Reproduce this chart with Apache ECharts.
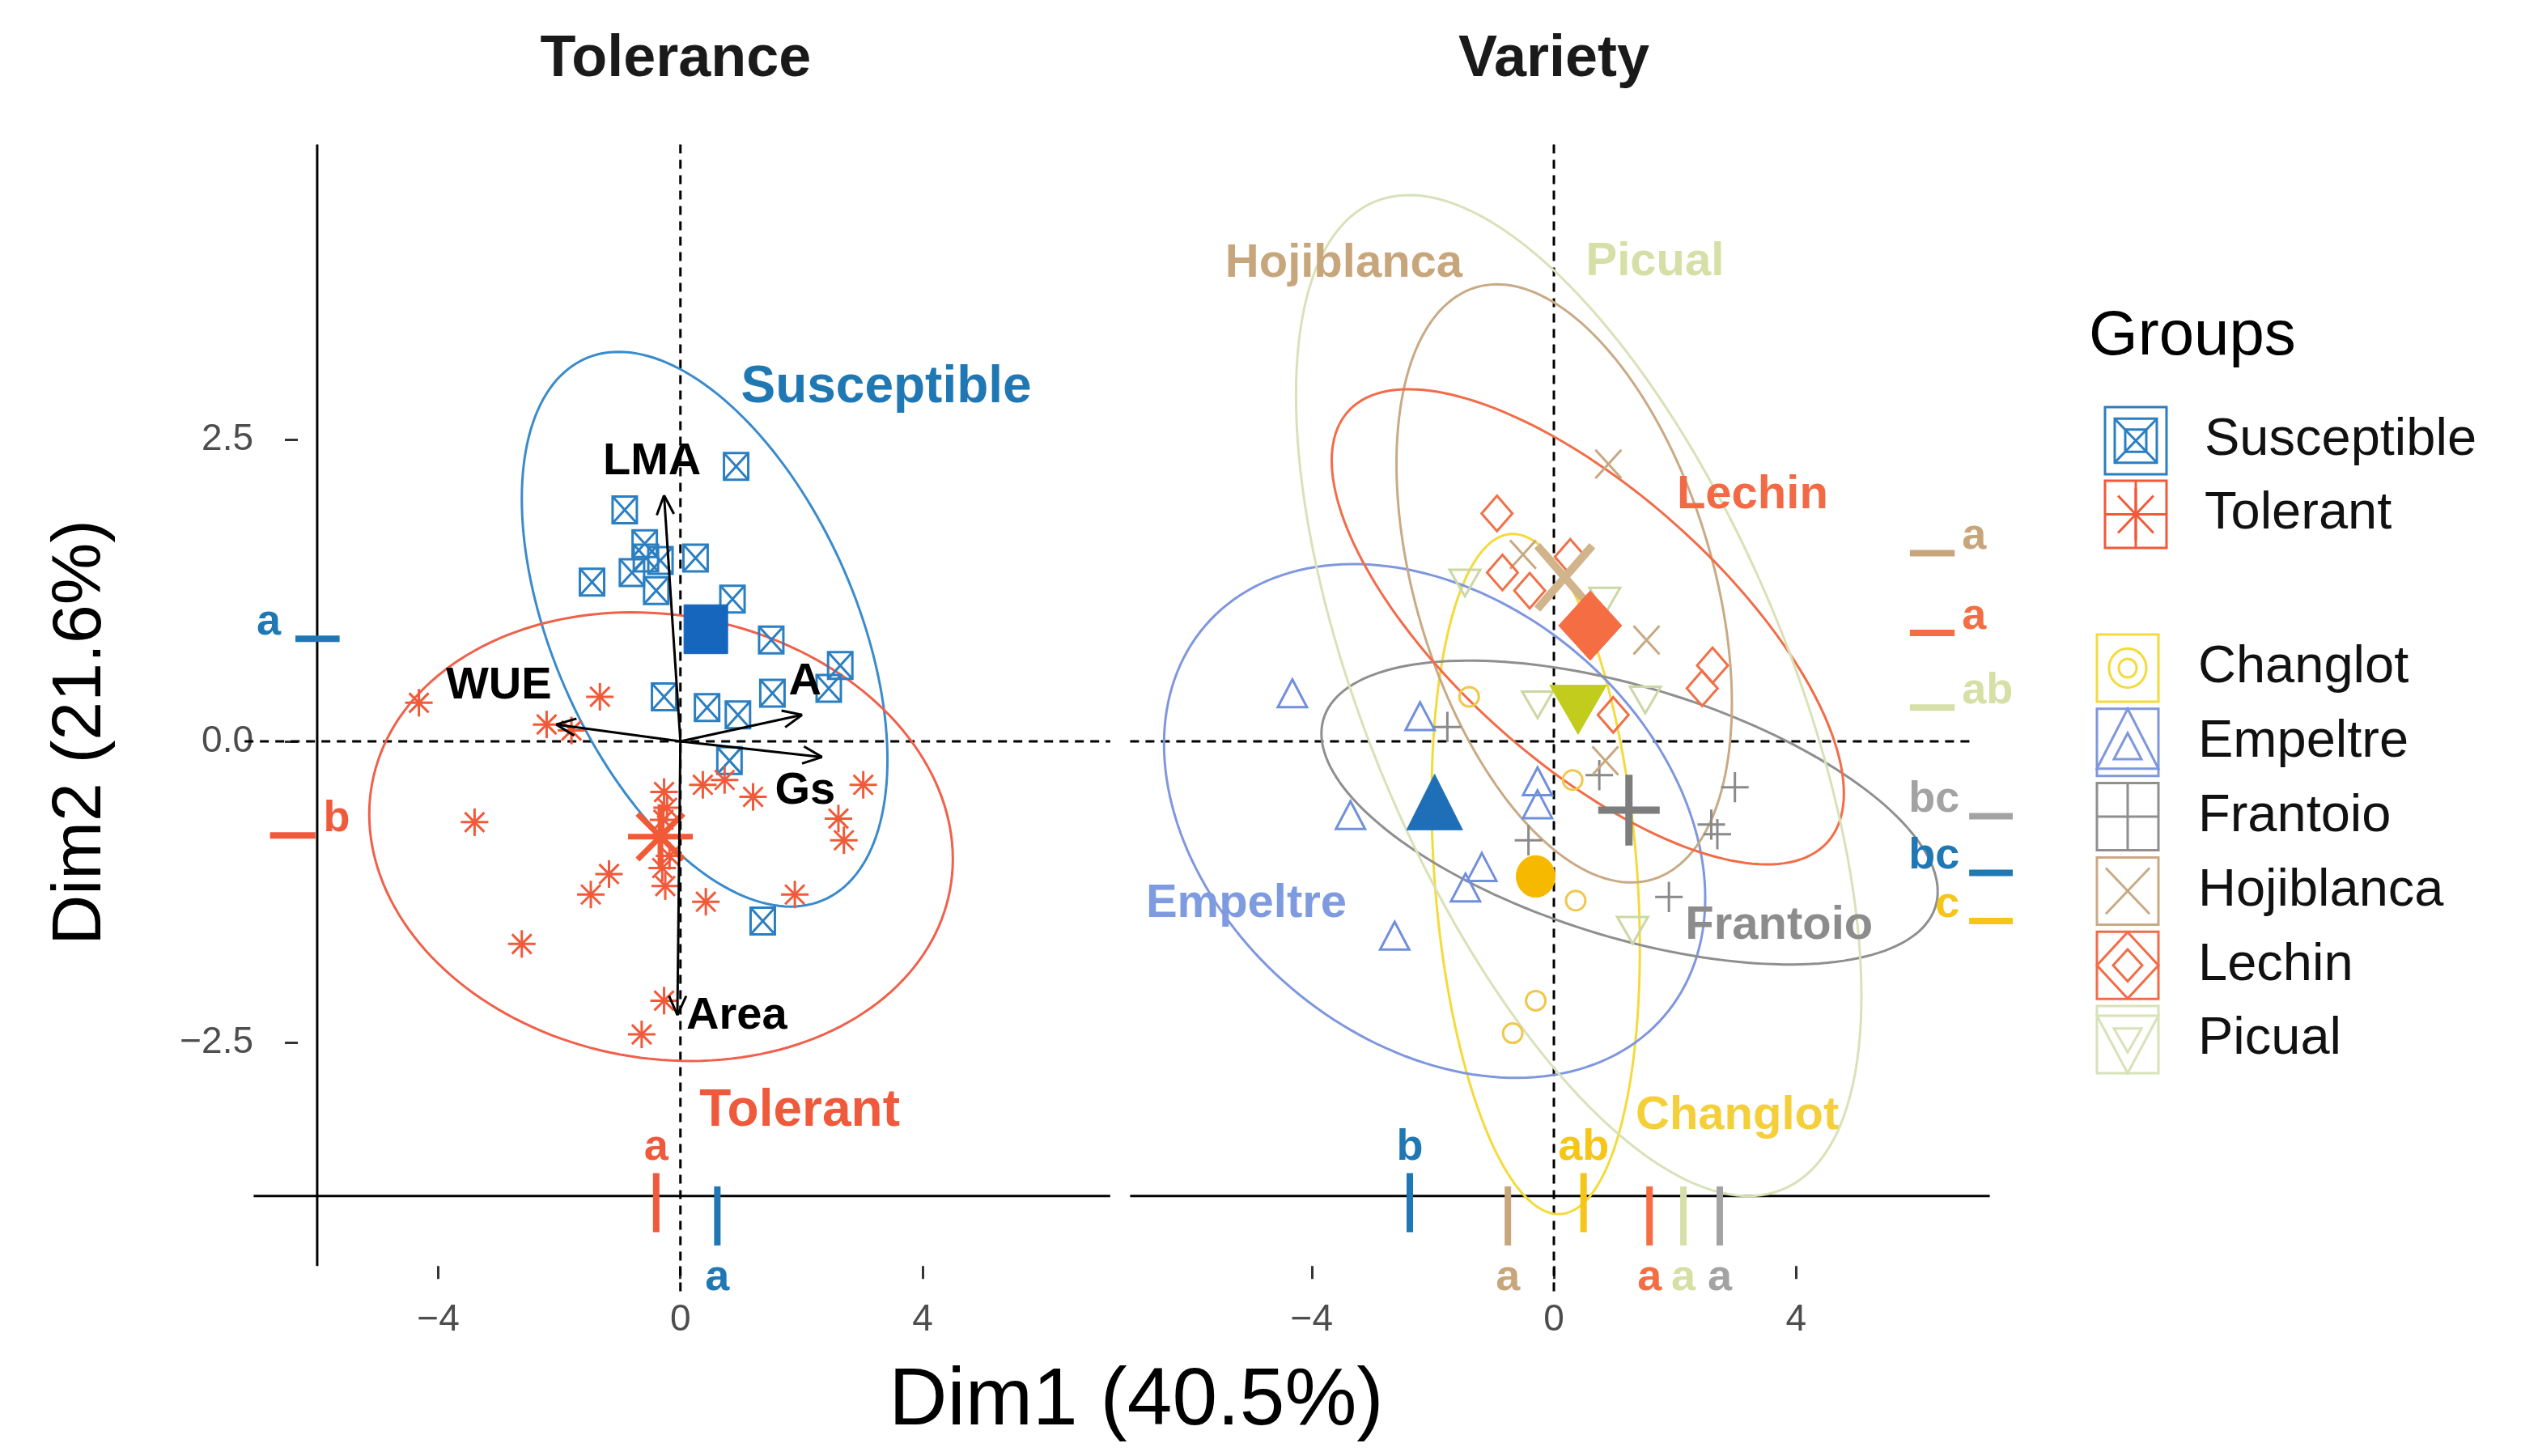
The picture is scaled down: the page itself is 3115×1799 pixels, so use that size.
<!DOCTYPE html>
<html><head><meta charset="utf-8">
<script src="https://cdn.jsdelivr.net/npm/echarts@6/dist/echarts.min.js"></script>
<style>html,body{margin:0;padding:0;background:#fff}#c{width:3115px;height:1799px}</style>
</head><body><div id="c"></div>
<script>
// ====================== DATA ======================
const tolGroups = ['Susceptible', 'Tolerant'];
const susceptiblePts = [[0.92,2.28],[-0.92,1.92],[-0.59,1.64],[-0.57,1.52],[-0.33,1.50],[0.25,1.52],[-1.46,1.32],[-0.80,1.40],[-0.40,1.25],[0.86,1.18],[1.50,0.84],[2.64,0.63],[2.45,0.44],[1.52,0.40],[-0.27,0.37],[0.44,0.28],[0.95,0.22],[0.81,-0.16],[1.36,-1.49]];
const tolerantPts = [[-4.32,0.32],[-1.33,0.37],[-2.21,0.14],[-1.80,0.09],[-3.40,-0.67],[-2.62,-1.68],[-1.48,-1.27],[-1.18,-1.10],[-0.27,-0.42],[-0.22,-0.55],[-0.28,-0.65],[-0.18,-0.95],[-0.30,-1.05],[-0.25,-1.20],[0.37,-0.36],[0.73,-0.32],[1.20,-0.46],[0.42,-1.33],[1.89,-1.27],[3.02,-0.36],[2.61,-0.64],[2.70,-0.82],[-0.27,-2.15],[-0.64,-2.43]];
const tolCentroids = [[0.42,0.93],[-0.33,-0.79]];
// ellipse: centre x, centre y, half-range x, half-range y, correlation
const tolEllipses = [[0.40,0.93,3.02,2.30,-0.47],[-0.32,-0.79,4.82,1.86,-0.10]];
const tolLabelPos = [[3.40,2.93],[1.97,-3.07]];
const loadingNames = ['LMA','WUE','A','Gs','Area'];
const loadingTips = [[-0.27,2.04],[-2.05,0.14],[2.01,0.22],[2.34,-0.13],[-0.05,-2.27]];
const loadingLabelPos = [[-0.47,2.32],[-3.00,0.46],[2.06,0.49],[2.06,-0.41],[0.93,-2.28]];
const tolDim1Means = [0.61,-0.40];
const tolDim1Letters = ['a','a'];
const tolDim2Means = [0.85,-0.78];
const tolDim2Letters = ['a','b'];

const varieties = ['Changlot','Empeltre','Frantoio','Hojiblanca','Lechin','Picual'];
const changlotPts = [[-1.40,0.37],[0.31,-0.32],[0.36,-1.32],[-0.30,-2.15],[-0.68,-2.42]];
const empeltrePts = [[-4.32,0.36],[-2.21,0.17],[-3.36,-0.65],[-0.27,-0.37],[-0.27,-0.56],[-1.19,-1.08],[-1.46,-1.25],[-2.63,-1.65]];
const frantoioPts = [[-1.76,0.12],[0.75,-0.28],[2.99,-0.38],[2.60,-0.69],[2.70,-0.77],[-0.42,-0.82],[1.90,-1.29]];
const hojiblancaPts = [[0.90,2.30],[-0.51,1.55],[1.53,0.84],[0.85,-0.16]];
const lechinPts = [[-0.94,1.89],[-0.85,1.40],[-0.40,1.25],[0.27,1.53],[0.98,0.22],[2.62,0.63],[2.45,0.44]];
const picualPts = [[-1.47,1.35],[-0.27,0.34],[0.84,1.20],[1.51,0.38],[1.30,-1.53]];
const varCentroids = [[-0.30,-1.12],[-1.97,-0.58],[1.24,-0.57],[0.18,1.36],[0.60,0.96],[0.40,0.33]];
const varEllipses = [[-0.30,-1.10,1.72,2.82,-0.22],[-1.97,-0.66,4.47,2.13,-0.30],[1.25,-0.59,5.09,1.26,-0.52],[0.17,1.31,2.77,2.48,-0.40],[0.56,0.95,4.23,1.97,-0.70],[0.41,0.38,4.67,4.15,-0.60]];
const varLabelPos = [[3.03,-3.11],[-5.08,-1.35],[3.72,-1.53],[-3.47,3.96],[3.28,2.04],[1.67,3.97]];
const varDim1Means = [0.49,-2.38,2.74,-0.76,1.58,2.14];
const varDim1Letters = ['ab','b','a','a','a','a'];
const varDim2Means = [-1.49,-1.09,-0.62,1.56,0.90,0.28];
const varDim2Letters = ['c','bc','bc','a','a','ab'];

const xTicks = [-4, 0, 4];
const yTicks = [-2.5, 0, 2.5];

// ====================== STYLE / LAYOUT ======================
const FONT = '"Liberation Sans", Arial, Helvetica, sans-serif';
const tolStyle = [
  {pt:'#2b7fc1', ell:'#3a8bcb', cen:'#1666bd', txt:'#1f78b4', shape:'boxx', s:15, sy:1.1, cs:27, csy:1.12, cfill:true, clw:3},
  {pt:'#f05a3a', ell:'#f0604a', cen:'#f05a36', txt:'#f05a3c', shape:'aster', s:17, sy:1, cs:40, csy:1, cfill:false, clw:7}
];
const varStyle = [
  {pt:'#f0c84e', ell:'#f5da3c', cen:'#f6b900', txt:'#f5cf3a', let:'#f5c518', shape:'circle', s:12, sy:1, cs:24, csy:1.07, cfill:true, clw:3},
  {pt:'#7090dc', ell:'#7f97dd', cen:'#1f6fb8', txt:'#7f9be0', let:'#1f78b4', shape:'tri', s:18, sy:1.1, cs:34.5, csy:1.15, cfill:true, clw:3},
  {pt:'#8a8a8a', ell:'#8f8f8f', cen:'#7d7d7d', txt:'#8c8c8c', let:'#a3a3a3', shape:'plus', s:17, sy:1.1, cs:38, csy:1.15, cfill:false, clw:9},
  {pt:'#c8a880', ell:'#c9aa85', cen:'#d2b48c', txt:'#c8a67c', let:'#c8a67c', shape:'cross', s:16, sy:1.1, cs:34, csy:1.15, cfill:false, clw:10},
  {pt:'#f07048', ell:'#f26c48', cen:'#f46d43', txt:'#f26a45', let:'#f46d43', shape:'diamond', s:19, sy:1.15, cs:39, csy:1.1, cfill:true, clw:3},
  {pt:'#cbd8a4', ell:'#d8e2b8', cen:'#c2cc1c', txt:'#d5dfa6', let:'#d5dfa6', shape:'tridown', s:19, sy:1, cs:35, csy:1, cfill:true, clw:3}
];
const tolDim1Side = ['below','above'];
const tolDim2Side = ['left','right'];
const varDim1Side = ['above','above','below','below','below','below'];
const varDim2Side = ['left','left','left','right','right','right'];

// ====================== HELPERS ======================
function L(x1,y1,x2,y2,color,lw,dash){
  return {type:'line', shape:{x1,y1,x2,y2}, style:{stroke:color, lineWidth:lw, lineDash:dash||null, lineCap:'butt'}};
}
function T(x,y,text,color,size,weight,align,valign){
  return {type:'text', x, y, style:{text, fill:color, fontSize:size, fontWeight:weight||'normal', fontFamily:FONT,
    align:align||'center', verticalAlign:valign||'middle', textAlign:align||'center', textVerticalAlign:valign||'middle'}};
}
function symbolEls(shape,x,y,s,color,lw,filled,sy){
  sy = sy||1; const h = s*sy;
  const st = filled ? {fill:color, stroke:color, lineWidth:1} : {fill:null, stroke:color, lineWidth:lw};
  switch(shape){
    case 'boxx':
      if (filled) return [{type:'rect', shape:{x:x-s,y:y-h,width:2*s,height:2*h}, style:st}];
      return [{type:'rect', shape:{x:x-s,y:y-h,width:2*s,height:2*h}, style:st}, L(x-s,y-h,x+s,y+h,color,lw), L(x-s,y+h,x+s,y-h,color,lw)];
    case 'square': return [{type:'rect', shape:{x:x-s,y:y-h,width:2*s,height:2*h}, style:st}];
    case 'aster': { const d=s*0.707, e=h*0.707;
      return [L(x-s,y,x+s,y,color,lw), L(x,y-h,x,y+h,color,lw), L(x-d,y-e,x+d,y+e,color,lw), L(x-d,y+e,x+d,y-e,color,lw)]; }
    case 'circle': return [{type:'ellipse', shape:{cx:x,cy:y,rx:s,ry:h}, style:st}];
    case 'tri': return [{type:'polygon', shape:{points:[[x,y-1.155*h],[x+s,y+0.577*h],[x-s,y+0.577*h]]}, style:st}];
    case 'tridown': return [{type:'polygon', shape:{points:[[x,y+1.155*h],[x+s,y-0.577*h],[x-s,y-0.577*h]]}, style:st}];
    case 'plus': return [L(x-s,y,x+s,y,color,lw), L(x,y-h,x,y+h,color,lw)];
    case 'cross': return [L(x-s,y-h,x+s,y+h,color,lw), L(x-s,y+h,x+s,y-h,color,lw)];
    case 'diamond': return [{type:'polygon', shape:{points:[[x,y-h],[x+s,y],[x,y+h],[x-s,y]]}, style:st}];
  }
  return [];
}
function base(gi,z){ return {type:'custom', coordinateSystem:'cartesian2d', xAxisIndex:gi, yAxisIndex:gi, clip:false, silent:true, animation:false, z:z}; }
function pointSeries(gi,pts,st,z){
  return Object.assign(base(gi,z), {data:pts, encode:{x:0,y:1},
    renderItem:(p,api)=>{ const c=api.coord([api.value(0),api.value(1)]);
      return {type:'group', children:symbolEls(st.shape,c[0],c[1],st.s,st.pt,3,false,st.sy)}; }});
}
function centroidSeries(gi,pts,styles,z){
  return Object.assign(base(gi,z), {data:pts, encode:{x:0,y:1},
    renderItem:(p,api)=>{ const st=styles[p.dataIndex]; const c=api.coord([api.value(0),api.value(1)]);
      const shape = st.shape==='boxx' ? 'square' : st.shape;
      return {type:'group', children:symbolEls(shape,c[0],c[1],st.cs,st.cen,st.clw,st.cfill,st.csy)}; }});
}
function ellipseSeries(gi,ells,styles,z){
  return Object.assign(base(gi,z), {data:ells, dimensions:['cx','cy','rx','ry','rho'], encode:{x:0,y:1},
    renderItem:(p,api)=>{
      const cx=api.value(0), cy=api.value(1), rx=api.value(2), ry=api.value(3), rho=api.value(4);
      const k=Math.sqrt(1-rho*rho), pts=[];
      for(let i=0;i<=180;i++){ const t=i/180*2*Math.PI;
        pts.push(api.coord([cx+rx*Math.cos(t), cy+ry*(rho*Math.cos(t)-k*Math.sin(t))])); }
      return {type:'polyline', shape:{points:pts}, style:{stroke:styles[p.dataIndex].ell, lineWidth:3, fill:null}};
    }});
}
function labelSeries(gi,pos,names,colors,size,z){
  return Object.assign(base(gi,z), {data:pos, encode:{x:0,y:1},
    renderItem:(p,api)=>{ const c=api.coord([api.value(0),api.value(1)]);
      return T(c[0],c[1],names[p.dataIndex],colors[p.dataIndex],size,'bold'); }});
}
function frameSeries(gi,cfg,z){
  return Object.assign(base(gi,z), {data:[[0,0]], encode:{x:0,y:1},
    renderItem:(p,api)=>{
      const ch=[]; const C=(x,y)=>api.coord([x,y]);
      cfg.solid.forEach(s=>{ const a=C(s[0],s[1]), b=C(s[2],s[3]); ch.push(L(a[0],a[1],b[0],b[1],'#000',3)); });
      cfg.dashed.forEach(s=>{ const a=C(s[0],s[1]), b=C(s[2],s[3]); ch.push(L(a[0],a[1],b[0],b[1],'#000',3,[11,8])); });
      return {type:'group', children:ch};
    }});
}
// marginal mean marks with letters
function marginSeries(gi,means,letters,sides,colors,axis,z){
  return Object.assign(base(gi,z), {data:means.map(v=>[v,0]), encode:{x:0,y:1},
    renderItem:(p,api)=>{
      const i=p.dataIndex, v=api.value(0), col=colors[i], side=sides[i], ch=[];
      if(axis==='x'){
        const top = side==='above' ? -3.58 : -3.69, bot = side==='above' ? -4.07 : -4.18;
        const a=api.coord([v,top]), b=api.coord([v,bot]);
        ch.push(L(a[0],a[1],b[0],b[1],col,8));
        const ly = side==='above' ? -3.37 : -4.45; const t=api.coord([v,ly]);
        ch.push(T(t[0],t[1],letters[i],col,54,'bold'));
      } else {
        const r = axis.ranges[side]; const a=api.coord([r[0],v]), b=api.coord([r[1],v]);
        ch.push(L(a[0],a[1],b[0],b[1],col,8));
        const t=api.coord([axis.letterX[side],v]);
        ch.push(T(t[0],t[1]-20,letters[i],col,54,'bold',axis.align[side]));
      }
      return {type:'group', children:ch};
    }});
}
function arrowSeries(gi,tips,names,labelPos,z){
  return Object.assign(base(gi,z), {data:tips, encode:{x:0,y:1},
    renderItem:(p,api)=>{
      const o=api.coord([0,0]), t=api.coord([api.value(0),api.value(1)]);
      const ang=Math.atan2(t[1]-o[1], t[0]-o[0]), len=26, a=0.42;
      const lp=api.coord(labelPos[p.dataIndex]);
      return {type:'group', children:[
        L(o[0],o[1],t[0],t[1],'#000',3),
        L(t[0],t[1],t[0]-len*Math.cos(ang-a),t[1]-len*Math.sin(ang-a),'#000',3),
        L(t[0],t[1],t[0]-len*Math.cos(ang+a),t[1]-len*Math.sin(ang+a),'#000',3),
        T(lp[0],lp[1],names[p.dataIndex],'#000',56,'bold')
      ]};
    }});
}

// ====================== AXES ======================
const minusFmt = v => (v<0?'\u2212':'') + Math.abs(v);
const yFmt = v => (v<0?'\u2212':'') + Math.abs(v).toFixed(1);
function xAxis(gi,min,max){
  return {gridIndex:gi, type:'value', min, max, axisLine:{show:false, onZero:false}, splitLine:{show:false},
    axisTick:{show:true, customValues:xTicks, length:16, lineStyle:{color:'#333', width:3}},
    axisLabel:{show:true, customValues:xTicks, margin:44, fontSize:46, color:'#4d4d4d', fontFamily:FONT, formatter:minusFmt}};
}
function yAxis(gi,show){
  return {gridIndex:gi, type:'value', min:-4.35, max:5.0, show:show, axisLine:{show:false, onZero:false}, splitLine:{show:false},
    axisTick:{show:show, customValues:yTicks, length:16, lineStyle:{color:'#333', width:3}},
    axisLabel:{show:show, customValues:yTicks, margin:55, fontSize:46, color:'#4d4d4d', fontFamily:FONT, formatter:yFmt}};
}

// ====================== SERIES ======================
const series = [];
// left panel
series.push(frameSeries(0,{solid:[[-6,-4.35,-6,4.95],[-7.05,-3.77,7.1,-3.77]], dashed:[[0,4.95,0,-4.6],[-7.2,0,7.1,0]]},1));
series.push(ellipseSeries(0,tolEllipses,tolStyle,2));
series.push(pointSeries(0,susceptiblePts,tolStyle[0],3));
series.push(pointSeries(0,tolerantPts,tolStyle[1],3));
series.push(centroidSeries(0,tolCentroids,tolStyle,4));
series.push(arrowSeries(0,loadingTips,loadingNames,loadingLabelPos,5));
series.push(labelSeries(0,tolLabelPos,tolGroups,tolStyle.map(s=>s.txt),64,6));
series.push(marginSeries(0,tolDim1Means,tolDim1Letters,tolDim1Side,tolStyle.map(s=>s.txt),'x',6));
series.push(marginSeries(0,tolDim2Means,tolDim2Letters,tolDim2Side,tolStyle.map(s=>s.txt),
  {ranges:{left:[-6.36,-5.63], right:[-6.78,-6.03]}, letterX:{left:-6.80, right:-5.68}, align:{left:'center', right:'center'}},6));
// right panel
series.push(frameSeries(1,{solid:[[-7.0,-3.77,7.2,-3.77]], dashed:[[0,4.95,0,-4.6],[-7.0,0,6.95,0]]},1));
series.push(ellipseSeries(1,varEllipses,varStyle,2));
[changlotPts,empeltrePts,frantoioPts,hojiblancaPts,lechinPts,picualPts].forEach((pts,i)=>series.push(pointSeries(1,pts,varStyle[i],3)));
series.push(centroidSeries(1,varCentroids,varStyle,4));
series.push(labelSeries(1,varLabelPos,varieties,varStyle.map(s=>s.txt),58,6));
series.push(marginSeries(1,varDim1Means,varDim1Letters,varDim1Side,varStyle.map(s=>s.let),'x',6));
series.push(marginSeries(1,varDim2Means,varDim2Letters,varDim2Side,varStyle.map(s=>s.let),
  {ranges:{left:[6.86,7.58], right:[5.88,6.62]}, letterX:{left:6.70, right:6.74}, align:{left:'right', right:'left'}},6));

// ====================== LEGEND (graphic) ======================
const G = [];
G.push(T(1404,1732,'Dim1 (40.5%)','#000',100,'normal'));
G.push(Object.assign(T(100,905,'Dim2 (21.6%)','#000',86,'normal'),{rotation:Math.PI/2}));
G.push(T(835,74,'Tolerance','#1a1a1a',72,'bold'));
G.push(T(1920,74,'Variety','#1a1a1a',72,'bold'));
G.push(T(2581,416,'Groups','#000',78,'normal','left'));
function keyBox(x,y,col){ return {type:'rect', shape:{x,y,width:76,height:83}, style:{fill:null, stroke:col, lineWidth:3}}; }
// group keys
{
  const c0='#2b7fc1', x=2601, y=503, cx=x+38, cy=y+41.5;
  G.push(keyBox(x,y,c0));
  G.push(...symbolEls('square',cx,cy,26,c0,3,false,1.05));
  G.push(...symbolEls('square',cx,cy,13,c0,3,false,1.05));
  G.push(L(cx-26,cy-27,cx+26,cy+27,c0,3), L(cx-26,cy+27,cx+26,cy-27,c0,3));
  G.push(T(2724,cy,'Susceptible','#111',65,'normal','left'));
  const c1='#f05a3a', y1=594, cy1=y1+41.5;
  G.push(keyBox(x,y1,c1));
  G.push(L(x,cy1,x+76,cy1,c1,3), L(cx,y1,cx,y1+83,c1,3));
  G.push(...symbolEls('aster',cx,cy1,31,c1,3,false,1.05));
  G.push(T(2724,cy1,'Tolerant','#111',65,'normal','left'));
}
varieties.forEach((v,i)=>{
  const st=varStyle[i], x=2591, y=784+i*91.8, cx=x+38, cy=y+41.5, c=st.ell;
  G.push(keyBox(x,y,c));
  if(st.shape==='circle'){ G.push(...symbolEls('circle',cx,cy,23,c,3,false,1.05)); G.push(...symbolEls('circle',cx,cy,11,c,3,false,1.05)); }
  if(st.shape==='tri'){ G.push({type:'polygon',shape:{points:[[cx,y],[x+76,y+74],[x,y+74]]},style:{fill:null,stroke:c,lineWidth:3}}); G.push(...symbolEls('tri',cx,cy+10,17,c,3,false,1.1)); }
  if(st.shape==='plus'){ G.push(L(x,cy,x+76,cy,c,3), L(cx,y,cx,y+83,c,3)); }
  if(st.shape==='cross'){ G.push(...symbolEls('cross',cx,cy,27,c,3,false,1.05)); }
  if(st.shape==='diamond'){ G.push(...symbolEls('diamond',cx,cy,38,c,3,false,1.08)); G.push(...symbolEls('diamond',cx,cy,18,c,3,false,1.1)); }
  if(st.shape==='tridown'){ G.push({type:'polygon',shape:{points:[[x,y+12],[x+76,y+12],[cx,y+83]]},style:{fill:null,stroke:c,lineWidth:3}}); G.push(...symbolEls('tridown',cx,cy-4,17,c,3,false,1)); }
  G.push(T(2716,cy,v,'#111',65,'normal','left'));
});

// ====================== CHART ======================
const chart = echarts.init(document.getElementById('c'), null, {renderer:'canvas'});
chart.setOption({
  backgroundColor:'#ffffff',
  animation:false,
  grid:[
    {left:368, top:171, width:1011.3, height:1393.2, containLabel:false, outerBoundsMode:'none'},
    {left:1396.4, top:171, width:1062.2, height:1393.2, containLabel:false, outerBoundsMode:'none'}
  ],
  xAxis:[xAxis(0,-6.32,7.2), xAxis(1,-7.0,7.2)],
  yAxis:[yAxis(0,true), yAxis(1,false)],
  graphic:{elements:G},
  series
});
</script></body></html>
